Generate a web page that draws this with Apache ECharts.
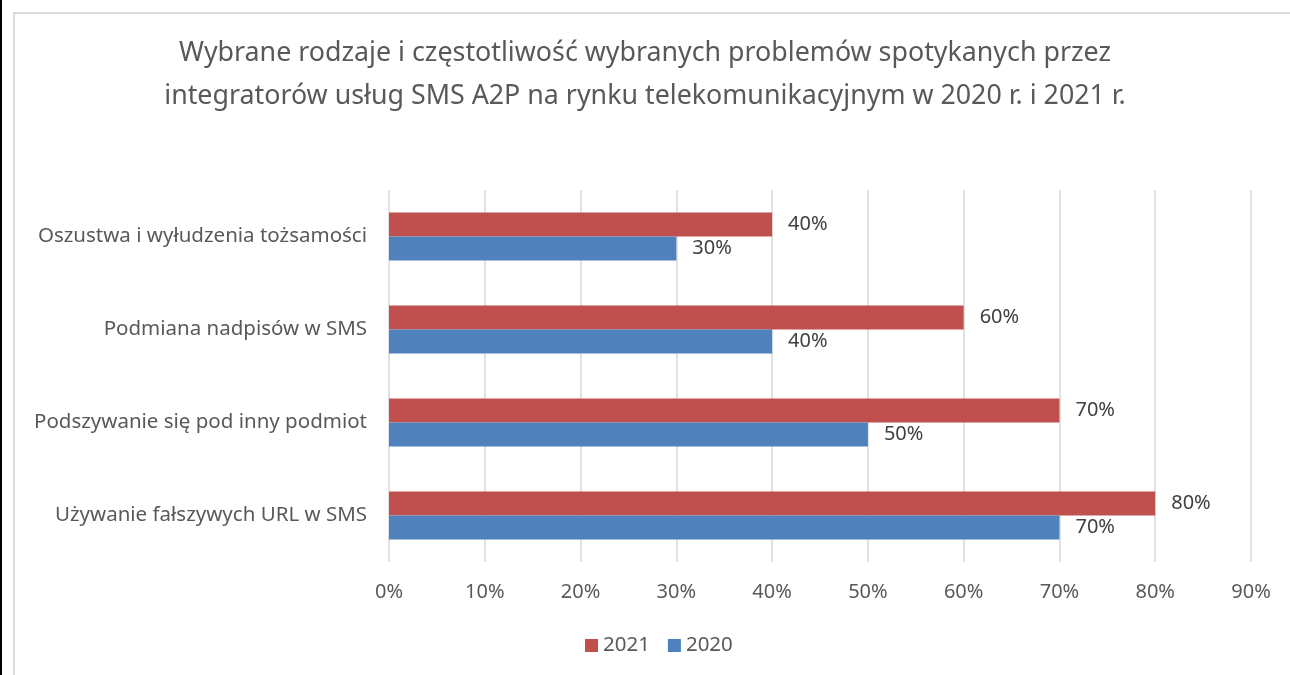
<!DOCTYPE html>
<html>
<head>
<meta charset="utf-8">
<script src="https://cdn.jsdelivr.net/npm/echarts@6/dist/echarts.min.js"></script>
<style>
  html, body { margin: 0; padding: 0; background: #fff; }
  #frame { position: absolute; left: 0; top: 0; width: 1290px; height: 675px; border-left: 2px solid #000; box-sizing: border-box; }
  #inner { position: absolute; left: 11px; top: 12px; right: -4px; bottom: -4px; border-left: 2px solid #d9d9d9; border-top: 2px solid #d9d9d9; }
  #chart { position: absolute; left: 0; top: 0; width: 1290px; height: 675px; }
</style>
</head>
<body>
<div id="frame"><div id="inner"></div></div>
<div id="chart"></div>
<script>
// categories listed bottom to top, as the y axis runs
var categories = [
  'Używanie fałszywych URL w SMS',
  'Podszywanie się pod inny podmiot',
  'Podmiana nadpisów w SMS',
  'Oszustwa i wyłudzenia tożsamości'
];
var values2020 = [70, 50, 40, 30];
var values2021 = [80, 70, 60, 40];
var seriesNames = ['2021', '2020'];

var font = 'Noto Sans';
var labelStyle = {
  show: true,
  position: 'right',
  distance: 16,
  color: '#404040',
  fontSize: 20,
  fontFamily: font,
  formatter: function (p) { return p.value + '%'; }
};

var chart = echarts.init(document.getElementById('chart'));
var option = {
  animation: false,
  title: {
    text: 'Wybrane rodzaje i częstotliwość wybranych problemów spotykanych przez\nintegratorów usług SMS A2P na rynku telekomunikacyjnym w 2020 r. i 2021 r.',
    left: 'center',
    top: 27,
    textStyle: {
      color: '#595959',
      fontSize: 26.8,
      fontWeight: 'normal',
      fontFamily: font,
      lineHeight: 43
    }
  },
  legend: {
    data: seriesNames,
    bottom: 14,
    left: 580,
    itemWidth: 13,
    itemHeight: 13,
    itemGap: 18,
    icon: 'rect',
    textStyle: { color: '#595959', fontSize: 20.5, fontFamily: font }
  },
  grid: { left: 389, right: 39, top: 190, height: 372, containLabel: false },
  xAxis: {
    type: 'value',
    min: 0,
    max: 90,
    interval: 10,
    axisLine: { show: false },
    axisTick: { show: false },
    axisLabel: {
      color: '#595959',
      fontSize: 20,
      fontFamily: font,
      margin: 20,
      formatter: '{value}%'
    },
    splitLine: { lineStyle: { color: '#d9d9d9', width: 1.5 } }
  },
  yAxis: {
    type: 'category',
    data: categories,
    axisLine: { show: false },
    axisTick: { show: false },
    axisLabel: {
      color: '#595959',
      fontSize: 20.5,
      fontFamily: font,
      margin: 22
    }
  },
  series: [
    {
      name: '2021',
      type: 'bar',
      data: values2021,
      barWidth: 24,
      barGap: '0%',
      itemStyle: { color: '#C0504D' },
      label: labelStyle
    },
    {
      name: '2020',
      type: 'bar',
      data: values2020,
      barWidth: 24,
      barGap: '0%',
      itemStyle: { color: '#4F81BD' },
      label: labelStyle
    }
  ]
};
chart.setOption(option);
</script>
</body>
</html>
